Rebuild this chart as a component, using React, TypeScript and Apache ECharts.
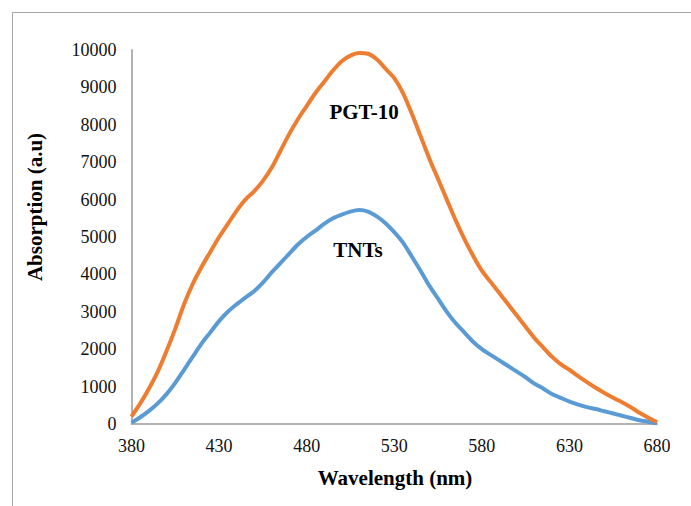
import React, { useEffect, useRef } from "react";
import * as echarts from "echarts";

const wavelengths = [
  380, 385, 390, 395, 400, 405, 410, 415, 420, 425, 430, 435, 440, 445, 450, 455, 460, 465, 470, 475,
  480, 485, 490, 495, 500, 505, 510, 515, 520, 525, 530, 535, 540, 545, 550, 555, 560, 565, 570, 575,
  580, 585, 590, 595, 600, 605, 610, 615, 620, 625, 630, 635, 640, 645, 650, 655, 660, 665, 670, 675, 680,
];

const pgt10 = [
  200, 550, 950, 1400, 1950, 2550, 3200, 3750, 4200, 4600, 5000, 5350, 5700, 6000, 6220, 6500, 6850, 7300, 7750, 8150,
  8500, 8850, 9150, 9450, 9700, 9850, 9920, 9900, 9750, 9500, 9250, 8850, 8300, 7700, 7100, 6550, 6000, 5450, 4950, 4500,
  4100, 3800, 3500, 3200, 2900, 2600, 2300, 2050, 1800, 1600, 1450, 1280, 1120, 970, 830, 700, 580, 450, 300, 170, 50,
];

const tnts = [
  30, 180, 350, 550, 800, 1100, 1450, 1800, 2150, 2450, 2750, 3000, 3200, 3380, 3550, 3780, 4050, 4300, 4550, 4800,
  5000, 5170, 5350, 5500, 5600, 5680, 5720, 5680, 5550, 5370, 5130, 4850, 4480, 4100, 3700, 3350, 3000, 2700, 2450, 2200,
  2000, 1850, 1700, 1550, 1400, 1250, 1080, 950, 800, 700, 600, 520, 450, 400, 340, 280, 220, 160, 100, 60, 20,
];

const xTickLabels = [380, 430, 480, 530, 580, 630, 680];

const serif = "Liberation Serif";

export default function App() {
  const ref = useRef<HTMLDivElement>(null);
  useEffect(() => {
    if (!ref.current) return;
    const chart = echarts.init(ref.current, null, { renderer: "svg" });
    const pairs = (vals: number[]) => wavelengths.map((w, i) => [w, vals[i]]);
    chart.setOption({
      animation: false,
      backgroundColor: "#fff",
      grid: { left: 131.5, top: 50, width: 525.5, height: 374, containLabel: false },
      xAxis: {
        type: "value",
        min: 380,
        max: 680,
        splitLine: { show: false },
        axisTick: { show: false },
        axisLine: { show: true, lineStyle: { color: "#B3B3B3", width: 2 } },
        axisLabel: {
          customValues: xTickLabels,
          color: "#111",
          fontFamily: serif,
          fontSize: 18,
          margin: 13,
          formatter: (v: number) => String(v),
        },
      },
      yAxis: {
        type: "value",
        min: 0,
        max: 10000,
        interval: 1000,
        splitLine: { show: false },
        axisTick: { show: false },
        axisLine: { show: true, lineStyle: { color: "#B3B3B3", width: 2 } },
        axisLabel: {
          color: "#111",
          fontFamily: serif,
          fontSize: 18,
          margin: 15,
          formatter: (v: number) => String(v),
        },
      },
      series: [
        {
          name: "TNTs",
          type: "line",
          data: pairs(tnts),
          showSymbol: false,
          smooth: 0.3,
          lineStyle: { color: "#5B9BD5", width: 4 },
          itemStyle: { color: "#5B9BD5" },
        },
        {
          name: "PGT-10",
          type: "line",
          data: pairs(pgt10),
          showSymbol: false,
          smooth: 0.3,
          lineStyle: { color: "#ED7D31", width: 4 },
          itemStyle: { color: "#ED7D31" },
        },
      ],
      graphic: [
        {
          type: "rect",
          shape: { x: 12.5, y: 12.5, width: 800, height: 700 },
          style: { fill: "none", stroke: "#A6A6A6", lineWidth: 1 },
          silent: true,
        },
        {
          type: "text",
          x: 364,
          y: 112,
          style: {
            text: "PGT-10",
            fontFamily: serif,
            fontWeight: "bold",
            fontSize: 21,
            fill: "#000",
            align: "center",
            verticalAlign: "middle",
          },
        },
        {
          type: "text",
          x: 358,
          y: 250,
          style: {
            text: "TNTs",
            fontFamily: serif,
            fontWeight: "bold",
            fontSize: 21,
            fill: "#000",
            align: "center",
            verticalAlign: "middle",
          },
        },
        {
          type: "text",
          x: 395,
          y: 478,
          style: {
            text: "Wavelength (nm)",
            fontFamily: serif,
            fontWeight: "bold",
            fontSize: 21,
            fill: "#000",
            align: "center",
            verticalAlign: "middle",
          },
        },
        {
          type: "text",
          x: 35,
          y: 207,
          rotation: Math.PI / 2,
          style: {
            text: "Absorption (a.u)",
            fontFamily: serif,
            fontWeight: "bold",
            fontSize: 21,
            fill: "#000",
            align: "center",
            verticalAlign: "middle",
          },
        },
      ],
    });
    return () => chart.dispose();
  }, []);
  return (
    <div
      ref={ref}
      style={{ position: "absolute", left: 0, top: 0, width: 691, height: 506, background: "#fff" }}
    />
  );
}
